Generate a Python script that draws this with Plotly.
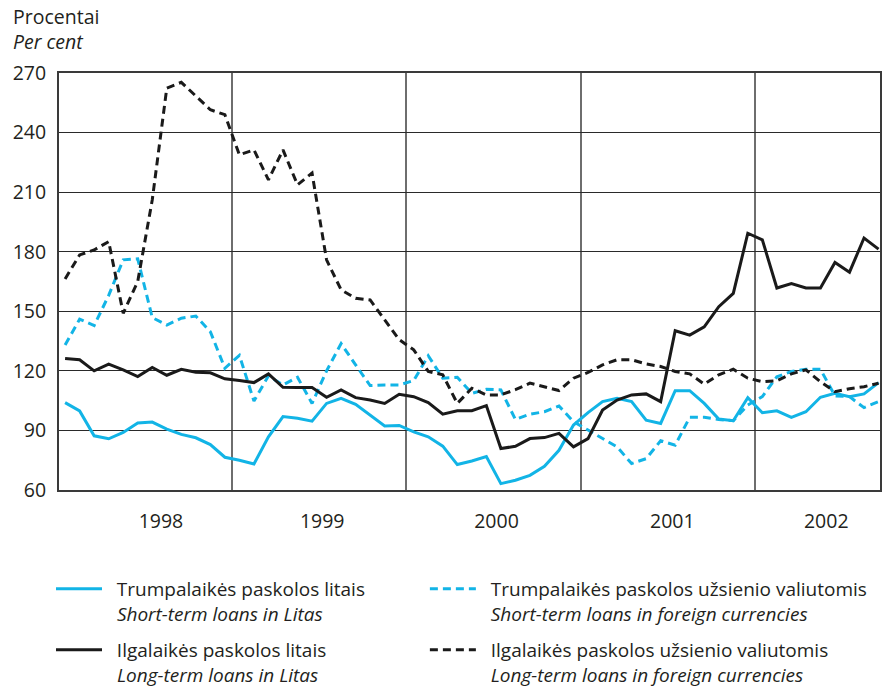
import plotly.graph_objects as go

# Monthly observations, Jan 1998 .. Sep 2002 (57 months)
n_months = 57
months = list(range(n_months))

short_litas = [104, 99.8, 87.3, 85.8, 89, 93.7, 94.2, 90.7, 88, 86.3, 82.9, 76.5,
               75, 73.1, 86.8, 97, 96.1, 94.7, 103.6, 106.2, 103.1, 97.7, 92.2, 92.5,
               89.3, 86.8, 82.1, 72.8, 74.6, 76.8, 63.2, 64.9, 67.4, 71.9, 80, 92.7,
               99, 104.5, 106.2, 104.5, 95.2, 93.5, 110, 110, 103.6, 95.7, 94.9, 106.5,
               98.9, 99.9, 96.6, 99.4, 106.7, 108.7, 107, 108.4, 114.1]

short_foreign = [133, 146, 142.8, 158, 175.9, 176.4, 146.8, 143.1, 146.5, 147.6, 139.7, 121.3,
                 127.8, 104.8, 117.5, 112.9, 116.8, 103.6, 120, 133.7, 123, 112.6, 112.9, 112.9,
                 115.1, 127.6, 116.3, 116.8, 108.7, 110.7, 110.4, 95.5, 98.2, 99.4, 102.3, 94.4,
                 90.2, 85.9, 81.7, 73.3, 75.8, 84.8, 82.6, 96.6, 96.6, 95.5, 94.9, 102.8,
                 107, 117, 119.7, 120.8, 120.8, 107.4, 107, 101.5, 104.5]

long_litas = [126.2, 125.6, 120, 123.4, 120.5, 117.1, 121.7, 117.8, 120.8, 119.3, 119, 116,
              115.1, 114.1, 118.5, 111.7, 111.6, 111.6, 106.7, 110.4, 106.5, 105.3, 103.6, 108.2,
              107, 104, 98.2, 99.9, 99.9, 102.5, 80.9, 82, 85.9, 86.4, 88.5, 81.7,
              85.9, 100.3, 105.3, 107.9, 108.4, 104.5, 140.2, 138, 142.2, 152.3, 159, 189.3,
              186, 161.7, 163.9, 161.7, 161.7, 174.6, 169.7, 186.9, 181.3]

long_foreign = [166.3, 178.4, 180.9, 185.1, 149, 165, 206.1, 262.4, 265.3, 258.2, 251.5, 249,
                228.8, 231.3, 216.2, 231.3, 213.7, 219.6, 175.9, 160.8, 156.6, 155.7, 145.6, 135.7,
                130.6, 119.7, 118, 103.6, 111.2, 107.9, 107.9, 110.5, 113.8, 112.1, 110.1, 116.3,
                119.2, 123, 125.6, 125.6, 123.5, 122.2, 119.7, 118.5, 113.3, 118, 120.8, 116.3,
                114.5, 115, 118.5, 120.5, 114.5, 109.5, 111, 112, 113.8]

year_labels = ["1998", "1999", "2000", "2001", "2002"]
year_label_pos = [6.6, 17.7, 29.7, 41.8, 52.4]
year_boundaries = [11.5, 23.5, 35.5, 47.5]
y_ticks = [60, 90, 120, 150, 180, 210, 240, 270]

SP = "\u00a0\u00a0"
names = [
    SP + "Trumpalaikės paskolos litais<br>" + SP + "<i>Short-term loans in Litas</i>",
    SP + "Trumpalaikės paskolos užsienio valiutomis<br>" + SP + "<i>Short-term loans in foreign currencies</i>",
    SP + "Ilgalaikės paskolos litais<br>" + SP + "<i>Long-term loans in Litas</i>",
    SP + "Ilgalaikės paskolos užsienio valiutomis<br>" + SP + "<i>Long-term loans in foreign currencies</i>",
]

CYAN = "#12b4e6"
BLACK = "#1a1a1a"
TXT = "#231f20"
FONT = "Open Sans, Noto Sans, DejaVu Sans, sans-serif"
FS = 19.5
LFS = 19

fig = go.Figure()
series = [
    (short_litas, CYAN, "solid", "legend"),
    (short_foreign, CYAN, "8px,5px", "legend2"),
    (long_litas, BLACK, "solid", "legend3"),
    (long_foreign, BLACK, "8px,5px", "legend4"),
]
for (vals, col, dash, lg), nm in zip(series, names):
    fig.add_trace(go.Scatter(x=months, y=vals, mode="lines", name=nm, legend=lg,
                             line=dict(color=col, width=3, dash=dash)))

col_x = [0.0575, 0.479]
row_y = [0.1715, 0.083]


def leg(x, y):
    return dict(x=x, y=y, xref="container", yref="container",
                xanchor="left", yanchor="top", itemwidth=46,
                valign="top", bgcolor="rgba(0,0,0,0)", borderwidth=0,
                font=dict(size=LFS, color=TXT, family=FONT))


fig.update_layout(
    width=887, height=688,
    margin=dict(l=59, r=7, t=73, b=198, autoexpand=False),
    paper_bgcolor="white", plot_bgcolor="white",
    font=dict(family=FONT, size=FS, color=TXT),
    showlegend=True,
    legend=leg(col_x[0], row_y[0]),
    legend2=leg(col_x[1], row_y[0]),
    legend3=leg(col_x[0], row_y[1]),
    legend4=leg(col_x[1], row_y[1]),
    annotations=[
        dict(text="Procentai<br><i>Per cent</i>", xref="paper", yref="paper",
             x=-0.059, y=1.105, xanchor="left", yanchor="middle", align="left",
             showarrow=False, font=dict(size=FS, color=TXT)),
    ],
)

fig.update_xaxes(
    range=[-0.42, 56.1], tickmode="array", tickvals=year_label_pos, ticktext=year_labels,
    ticks="", showgrid=False, zeroline=False,
    showline=True, mirror=True, linecolor="#3a3a3a", linewidth=2,
    ticklabelstandoff=13, tickfont=dict(size=FS, color=TXT),
    minor=dict(tickmode="array", tickvals=year_boundaries, showgrid=True,
               gridcolor="#6e6e6e", gridwidth=1.5, ticks=""),
)
fig.update_yaxes(
    range=[60, 270], tickmode="array", tickvals=y_ticks,
    ticks="", showgrid=True, gridcolor="#2a2a2a", gridwidth=1, zeroline=False,
    showline=True, mirror=True, linecolor="#3a3a3a", linewidth=2,
    ticklabelstandoff=7, tickfont=dict(size=FS, color=TXT),
)

fig.write_html("out.html", config={"displayModeBar": False},
               post_script="document.body.style.margin='0px';")
